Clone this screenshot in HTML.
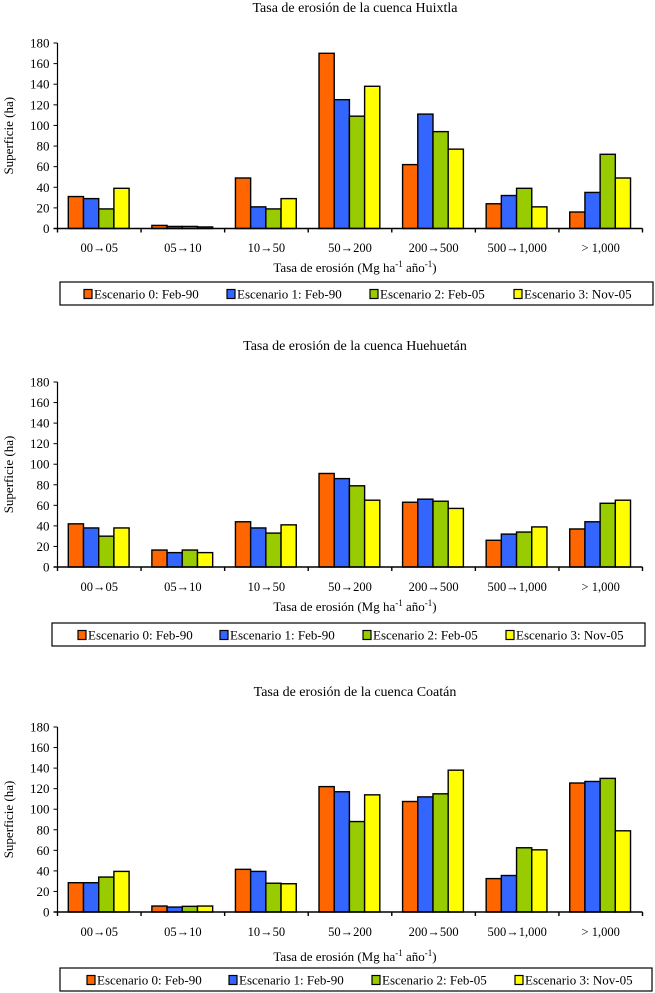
<!DOCTYPE html>
<html><head><meta charset="utf-8">
<style>
html,body{margin:0;padding:0;background:#fff;}
svg{display:block;font-family:"Liberation Serif",serif;}
</style></head>
<body>
<svg id="chart" width="655" height="993" viewBox="0 0 655 993" xmlns="http://www.w3.org/2000/svg"></svg>
<script>
const categories = ["00\u219205","05\u219210","10\u219250","50\u2192200","200\u2192500","500\u21921,000","> 1,000"];
const seriesNames = ["Escenario 0: Feb-90","Escenario 1: Feb-90","Escenario 2: Feb-05","Escenario 3: Nov-05"];
const yTicks = [0,20,40,60,80,100,120,140,160,180];
const chartTitles = ["Tasa de erosión de la cuenca Huixtla","Tasa de erosión de la cuenca Huehuetán","Tasa de erosión de la cuenca Coatán"];
// values per chart, per series
const huixtlaS0 = [31,3,49,170,62,24,16];
const huixtlaS1 = [29,2,21,125,111,32,35];
const huixtlaS2 = [19,2,19,109,94,39,72];
const huixtlaS3 = [39,1.5,29,138,77,21,49];
const huehuetanS0 = [42,16.5,44,91,63,26,37];
const huehuetanS1 = [38,14,38,86,66,32,44];
const huehuetanS2 = [30,16.5,33,79,64,34,62];
const huehuetanS3 = [38,14,41,65,57,39,65];
const coatanS0 = [28.5,5.8,41.5,122,107.5,32.5,125.5];
const coatanS1 = [28.5,4.8,39.5,117,112,35.5,127];
const coatanS2 = [34,5.5,28,88,115,62.5,130];
const coatanS3 = [39.5,5.8,27.5,114,138,60.5,79];

const colors = ["#FF6600","#3366FF","#99CC00","#FFFF00"];
const NS = "http://www.w3.org/2000/svg";
const svg = document.getElementById("chart");
function mk(tag, attrs, parent){
  const e = document.createElementNS(NS, tag);
  for (const k in attrs) e.setAttribute(k, attrs[k]);
  (parent||svg).appendChild(e);
  return e;
}
const layouts = [
  {top:43, zero:228.5, titleY:12, catY:252, axY:272, legY:282, legX:60, legW:593, items:[84,227,370,514]},
  {top:382, zero:567, titleY:350, catY:591, axY:611, legY:623, legX:52, legW:593, items:[78,220,363,506]},
  {top:727, zero:912, titleY:696, catY:936, axY:961, legY:968, legX:60, legW:592, items:[87,229,372,515]}
];
const allData = [
  [huixtlaS0,huixtlaS1,huixtlaS2,huixtlaS3],
  [huehuetanS0,huehuetanS1,huehuetanS2,huehuetanS3],
  [coatanS0,coatanS1,coatanS2,coatanS3]
];
const x0 = 57.5, x1 = 642.5;
const catW = (x1-x0)/categories.length;
const barW = 15.2, groupOff = 10.8;

allData.forEach((data, ci) => {
  const L = layouts[ci];
  const g = mk("g", {});
  
  
  const yScale = v => L.zero - (v/180)*(L.zero - L.top);
  const xCat = i => x0 + i*catW;

  const t = mk("text", {x:(x0+x1)/2+5, y:L.titleY, "text-anchor":"middle", "font-size":"14", fill:"#000"}, g);
  t.textContent = chartTitles[ci];
  
  

  // bars
  data.forEach((series, si) => {
    series.forEach((v, i) => {
      const y = yScale(v);
      const r = mk("rect", {x: xCat(i)+groupOff+si*barW, y: y, width: barW, height: L.zero - y, fill: colors[si], stroke:"#000", "stroke-width":"1.4"}, g);
      
      
    });
  });

  // axes
  const ya = mk("line", {x1:x0, y1:L.top, x2:x0, y2:L.zero, stroke:"#000", "stroke-width":"1.2"}, g);
  
  
  const xa = mk("line", {x1:x0-4, y1:L.zero, x2:x1, y2:L.zero, stroke:"#000", "stroke-width":"1.4"}, g);
  
  

  yTicks.forEach(v => {
    const y = yScale(v);
    mk("line", {x1:x0-4, y1:y, x2:x0, y2:y, stroke:"#000", "stroke-width":"1"}, g);
    const tl = mk("text", {x:x0-8, y:y+4.5, "text-anchor":"end", "font-size":"13", fill:"#000"}, g);
    tl.textContent = v;
    
    
  });
  for (let i=0;i<=categories.length;i++){
    mk("line", {x1:xCat(i), y1:L.zero, x2:xCat(i), y2:L.zero+4, stroke:"#000", "stroke-width":"1.4"}, g);
  }
  categories.forEach((c,i) => {
    const tl = mk("text", {x:xCat(i)+catW/2, y:L.catY, "text-anchor":"middle", "font-size":"12.5", fill:"#000"}, g);
    tl.textContent = c;
    
    
  });

  const yt = mk("text", {x:0, y:0, transform:"translate(13," + ((L.top+L.zero)/2) + ") rotate(-90)", "text-anchor":"middle", "font-size":"13", fill:"#000"}, g);
  yt.textContent = "Superficie (ha)";
  
  

  const xt = mk("text", {x:(x0+x1)/2+5, y:L.axY, "text-anchor":"middle", "font-size":"13", fill:"#000"}, g);
  xt.innerHTML = 'Tasa de erosión (Mg ha<tspan dy="-5" font-size="9">-1</tspan><tspan dy="5"> año</tspan><tspan dy="-5" font-size="9">-1</tspan><tspan dy="5">)</tspan>';
  
  

  // legend
  const lg = mk("g", {}, g);
  
  
  mk("rect", {x:L.legX, y:L.legY, width:L.legW, height:23, fill:"#fff", stroke:"#000", "stroke-width":"1.2"}, lg);
  seriesNames.forEach((n, si) => {
    const e = mk("g", {}, lg);
    
    
    mk("rect", {x:L.items[si], y:L.legY+7.5, width:8, height:9, fill:colors[si], stroke:"#000", "stroke-width":"1.2"}, e);
    const tx = mk("text", {x:L.items[si]+10, y:L.legY+16.5, "font-size":"13", fill:"#000"}, e);
    tx.textContent = n;
  });
});
</script>
</body></html>
